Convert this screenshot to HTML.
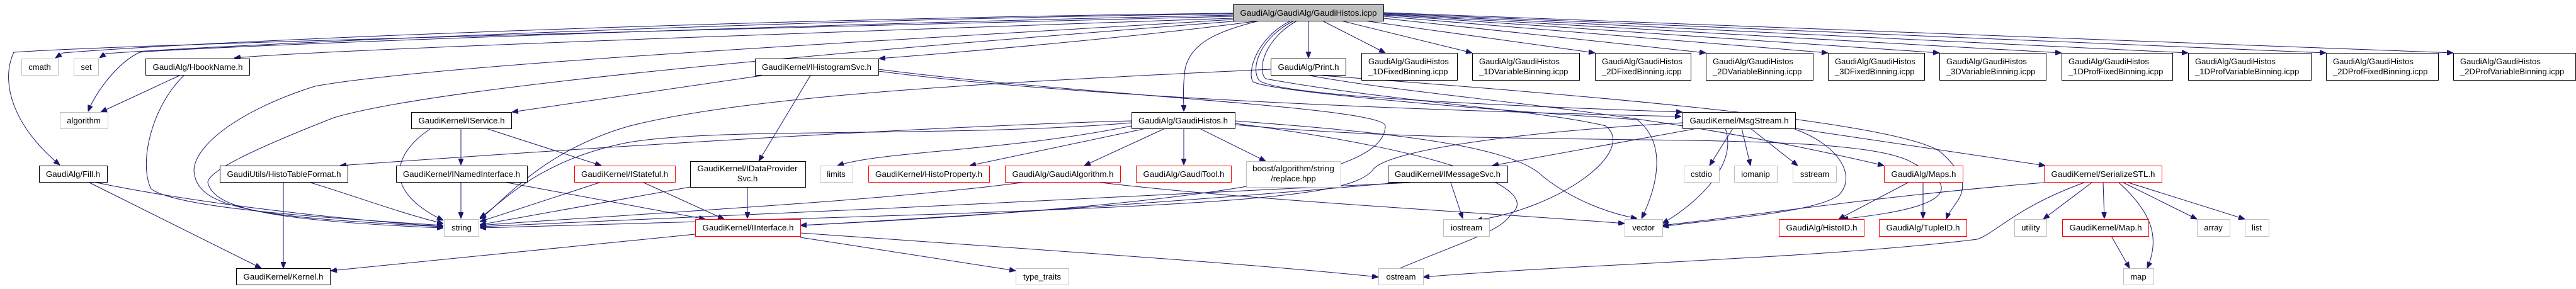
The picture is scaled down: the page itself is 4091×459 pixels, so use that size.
<!DOCTYPE html>
<html><head><meta charset="utf-8"><style>
html,body{margin:0;padding:0;background:#fff;width:4091px;height:459px;overflow:hidden}
svg{display:block}
text{font-family:"Liberation Sans",Arial,sans-serif;font-size:13px;fill:#000}
.e{fill:none;stroke:#191970;stroke-width:1}
.k{fill:#fff;stroke:#000}
.r{fill:#fff;stroke:#ff0000}
.g{fill:#fff;stroke:#bfbfbf}
</style></head><body>
<svg width="4091" height="459" viewBox="0 0 4091 459" xmlns="http://www.w3.org/2000/svg">
<defs><marker id="a" markerWidth="10" markerHeight="8" refX="10" refY="4" orient="auto" markerUnits="userSpaceOnUse"><path d="M0,0 L10,4 L0,8 z" fill="#191970" stroke="#191970"/></marker></defs>
<g class="e" marker-end="url(#a)">
<!-- root edges -->
<path d="M1958,21 C1300,28 400,60 100,84 L88,92"/>
<path d="M1958,22 C1300,30 450,66 168,85 L158,92"/>
<path d="M1958,24 C1200,40 300,75 222,83 C185,100 150,150 140,177"/>
<path d="M1958,26 C1200,45 200,70 22,83 C0,130 20,200 95,262"/>
<path d="M1958,29 C1200,55 500,80 372,92"/>
<path d="M2000,33 C1800,60 1500,85 1396,93"/>
<path d="M1958,31 C1500,60 700,100 500,137 C380,175 310,230 308,270 C310,330 400,345 704,360"/>
<path d="M1970,33 C1500,70 720,130 530,187 C420,230 330,270 330,290 C340,330 420,350 704,362"/>
<path d="M2000,33 C1930,50 1890,70 1882,110 C1878,140 1880,160 1880,177"/>
<path d="M2078,33 L2078,92"/>
<path d="M2100,33 L2200,84"/>
<path d="M2130,33 L2338,84"/>
<path d="M2160,32 L2533,84"/>
<path d="M2197,29 L2709,84"/>
<path d="M2197,26 L2903,84"/>
<path d="M2197,24 L3080,84"/>
<path d="M2197,23 L3274,84"/>
<path d="M2197,22 L3475,84"/>
<path d="M2197,21 L3694,84"/>
<path d="M2197,20 L3896,84"/>
<path d="M2055,33 C2000,60 1985,110 2000,128 C2030,150 2300,165 2672,178"/>
<path d="M2050,33 C1995,60 1980,115 1990,130 C2020,145 2300,170 2600,190 C2650,230 2630,300 2607,347"/>
<path d="M2060,33 C2010,60 1995,110 2010,125 C2200,160 2450,175 2550,200 C2600,240 2480,330 2344,350"/>
<!-- HbookName -->
<path d="M285,120 L160,178"/>
<path d="M292,120 C240,170 220,260 240,300 C280,330 500,345 704,358"/>
<!-- Fill -->
<path d="M142,290 L415,426"/>
<path d="M153,290 C300,320 500,345 704,360"/>
<!-- HistoTableFormat -->
<path d="M450,290 L450,426"/>
<path d="M493,290 C560,310 640,340 704,355"/>
<!-- IService -->
<path d="M732,204 L732,262"/>
<path d="M772,204 L955,263"/>
<path d="M683,205 C630,240 600,300 704,350"/>
<path d="M732,289 L732,347"/>
<path d="M800,289 L1120,348"/>
<path d="M955,289 L762,352"/>
<path d="M1020,289 L1150,348"/>
<path d="M1096,297 L762,357"/>
<path d="M1187,297 L1187,347"/>
<!-- IHistogramSvc -->
<path d="M1210,120 L813,178"/>
<path d="M1287,120 L1205,256"/>
<path d="M1395,113 C1600,140 2000,170 2670,185"/>
<path d="M1395,110 C1700,150 2200,170 2200,200 C2200,260 2050,320 1271,358"/>
<!-- Print.h -->
<path d="M2018,110 C1600,130 1200,150 1000,200 C860,240 800,320 762,348"/>
<path d="M2080,120 C2300,160 2600,170 2992,263"/>
<path d="M2100,120 C2500,150 3000,190 3080,240 C3150,300 3100,320 3091,348"/>
<!-- GaudiHistos.h -->
<path d="M1797,192 C1500,200 1000,230 540,263"/>
<path d="M1797,195 C1500,220 1100,200 980,230 C850,260 800,320 762,346"/>
<path d="M1820,204 L1540,263"/>
<path d="M1850,204 L1722,263"/>
<path d="M1880,204 L1880,262"/>
<path d="M1905,204 L2010,256"/>
<path d="M1961,192 C2200,210 2400,230 2450,280 C2500,320 2560,340 2600,347"/>
<path d="M1961,196 C2300,240 2450,300 2400,340 C2380,370 2330,380 2190,440"/>
<path d="M1961,198 C2400,240 2950,200 3040,260 C3160,320 3000,340 2925,348"/>
<path d="M1797,200 C1600,240 1400,240 1330,263"/>
<!-- GaudiAlgorithm -->
<path d="M1630,289 C1400,320 1000,340 762,358"/>
<path d="M1740,289 C2000,320 2400,340 2580,355"/>
<!-- IInterface -->
<path d="M1104,372 L525,430"/>
<path d="M1271,377 L1613,430"/>
<path d="M1271,370 C1700,400 2000,420 2189,440"/>
<!-- IMessageSvc -->
<path d="M2240,290 C1900,310 1200,340 762,360"/>
<path d="M2304,290 L2323,347"/>
<path d="M2220,290 C2000,310 1600,340 1271,358"/>
<!-- MsgStream -->
<path d="M2690,205 L2370,263"/>
<path d="M2752,204 L2715,263"/>
<path d="M2766,204 L2780,263"/>
<path d="M2780,204 L2855,263"/>
<path d="M2851,204 L3248,263"/>
<path d="M2672,195 C2400,210 2200,240 2180,270 C2140,320 1900,330 762,362"/>
<path d="M2850,205 C2920,230 2950,280 2920,310 C2880,340 2700,350 2640,360"/>
<path d="M2740,204 C2760,260 2700,320 2640,355"/>
<!-- Maps -->
<path d="M3030,290 L2920,348"/>
<path d="M3054,290 L3054,347"/>
<!-- SerializeSTL -->
<path d="M3246,290 C3000,310 2800,340 2640,358"/>
<path d="M3310,290 C3200,330 3170,370 3140,380 C2900,410 2500,420 2260,440"/>
<path d="M3322,290 L3245,348"/>
<path d="M3340,290 L3342,347"/>
<path d="M3365,290 C3420,340 3430,380 3410,426"/>
<path d="M3372,290 L3489,348"/>
<path d="M3380,290 L3565,348"/>
<path d="M3353,375 L3382,426"/>
</g>
<!-- nodes -->
<g>
<rect class="g" x="34.5" y="93.5" width="58" height="26"/><text x="63" y="111" text-anchor="middle">cmath</text>
<rect class="g" x="117.5" y="93.5" width="39" height="26"/><text x="137" y="111" text-anchor="middle">set</text>
<rect class="k" x="231.5" y="93.5" width="165" height="26"/><text x="314" y="111" text-anchor="middle" textLength="143" lengthAdjust="spacingAndGlyphs">GaudiAlg/HbookName.h</text>
<rect class="g" x="95.5" y="178.5" width="76" height="26"/><text x="133" y="196" text-anchor="middle">algorithm</text>
<rect class="k" x="62.5" y="263.5" width="108" height="26"/><text x="116" y="281" text-anchor="middle" textLength="86" lengthAdjust="spacingAndGlyphs">GaudiAlg/Fill.h</text>
<rect class="k" x="349.5" y="263.5" width="203" height="26"/><text x="451" y="281" text-anchor="middle" textLength="181" lengthAdjust="spacingAndGlyphs">GaudiUtils/HistoTableFormat.h</text>
<rect class="k" x="375.5" y="426.5" width="149" height="26"/><text x="450" y="444" text-anchor="middle" textLength="127" lengthAdjust="spacingAndGlyphs">GaudiKernel/Kernel.h</text>
<rect class="k" x="653.5" y="178.5" width="159" height="26"/><text x="733" y="196" text-anchor="middle" textLength="137" lengthAdjust="spacingAndGlyphs">GaudiKernel/IService.h</text>
<rect class="k" x="629.5" y="263.5" width="208" height="26"/><text x="733" y="281" text-anchor="middle" textLength="186" lengthAdjust="spacingAndGlyphs">GaudiKernel/INamedInterface.h</text>
<rect class="g" x="705.5" y="348.5" width="55" height="27"/><text x="733" y="366" text-anchor="middle">string</text>
<rect class="k" x="1199.5" y="93.5" width="196" height="26"/><text x="1297" y="111" text-anchor="middle" textLength="174" lengthAdjust="spacingAndGlyphs">GaudiKernel/IHistogramSvc.h</text>
<rect class="r" x="912.5" y="263.5" width="160" height="26"/><text x="992" y="281" text-anchor="middle" textLength="138" lengthAdjust="spacingAndGlyphs">GaudiKernel/IStateful.h</text>
<rect class="k" x="1096.5" y="256.5" width="183" height="41"/><text x="1187" y="272" text-anchor="middle" textLength="159" lengthAdjust="spacingAndGlyphs">GaudiKernel/IDataProvider</text><text x="1187" y="288" text-anchor="middle">Svc.h</text>
<rect class="g" x="1302.5" y="263.5" width="52" height="26"/><text x="1328" y="281" text-anchor="middle">limits</text>
<rect class="r" x="1104.5" y="348.5" width="167" height="27"/><text x="1188" y="366" text-anchor="middle" textLength="145" lengthAdjust="spacingAndGlyphs">GaudiKernel/IInterface.h</text>
<rect class="r" x="1379.5" y="263.5" width="192" height="26"/><text x="1475" y="281" text-anchor="middle" textLength="170" lengthAdjust="spacingAndGlyphs">GaudiKernel/HistoProperty.h</text>
<rect class="r" x="1596.5" y="263.5" width="183" height="26"/><text x="1688" y="281" text-anchor="middle" textLength="161" lengthAdjust="spacingAndGlyphs">GaudiAlg/GaudiAlgorithm.h</text>
<rect class="r" x="1804.5" y="263.5" width="151" height="26"/><text x="1880" y="281" text-anchor="middle" textLength="129" lengthAdjust="spacingAndGlyphs">GaudiAlg/GaudiTool.h</text>
<rect class="g" x="1979.5" y="256.5" width="150" height="41"/><text x="2054" y="272" text-anchor="middle" textLength="130" lengthAdjust="spacingAndGlyphs">boost/algorithm/string</text><text x="2054" y="288" text-anchor="middle">/replace.hpp</text>
<rect class="k" x="1797.5" y="178.5" width="164" height="26"/><text x="1879" y="196" text-anchor="middle" textLength="142" lengthAdjust="spacingAndGlyphs">GaudiAlg/GaudiHistos.h</text>
<rect class="g" x="1613.5" y="426.5" width="84" height="26"/><text x="1655" y="444" text-anchor="middle">type_traits</text>
<rect x="1958.5" y="7.5" width="239" height="26" fill="#bfbfbf" stroke="#000"/><text x="2078" y="25" text-anchor="middle" textLength="217" lengthAdjust="spacingAndGlyphs">GaudiAlg/GaudiAlg/GaudiHistos.icpp</text>
<rect class="k" x="2018.5" y="93.5" width="119" height="26"/><text x="2078" y="111" text-anchor="middle" textLength="97" lengthAdjust="spacingAndGlyphs">GaudiAlg/Print.h</text>
<rect class="k" x="2162.5" y="84.5" width="152" height="43"/><text x="2173" y="102">GaudiAlg/GaudiHistos</text><text x="2173" y="118">_1DFixedBinning.icpp</text>
<rect class="k" x="2338.5" y="84.5" width="170" height="43"/><text x="2349" y="102">GaudiAlg/GaudiHistos</text><text x="2349" y="118">_1DVariableBinning.icpp</text>
<rect class="k" x="2533.5" y="84.5" width="152" height="43"/><text x="2544" y="102">GaudiAlg/GaudiHistos</text><text x="2544" y="118">_2DFixedBinning.icpp</text>
<rect class="k" x="2709.5" y="84.5" width="170" height="43"/><text x="2720" y="102">GaudiAlg/GaudiHistos</text><text x="2720" y="118">_2DVariableBinning.icpp</text>
<rect class="k" x="2903.5" y="84.5" width="153" height="43"/><text x="2914" y="102">GaudiAlg/GaudiHistos</text><text x="2914" y="118">_3DFixedBinning.icpp</text>
<rect class="k" x="3080.5" y="84.5" width="169" height="43"/><text x="3091" y="102">GaudiAlg/GaudiHistos</text><text x="3091" y="118">_3DVariableBinning.icpp</text>
<rect class="k" x="3274.5" y="84.5" width="176" height="43"/><text x="3285" y="102">GaudiAlg/GaudiHistos</text><text x="3285" y="118">_1DProfFixedBinning.icpp</text>
<rect class="k" x="3475.5" y="84.5" width="195" height="43"/><text x="3486" y="102">GaudiAlg/GaudiHistos</text><text x="3486" y="118">_1DProfVariableBinning.icpp</text>
<rect class="k" x="3694.5" y="84.5" width="178" height="43"/><text x="3705" y="102">GaudiAlg/GaudiHistos</text><text x="3705" y="118">_2DProfFixedBinning.icpp</text>
<rect class="k" x="3896.5" y="84.5" width="194" height="43"/><text x="3907" y="102">GaudiAlg/GaudiHistos</text><text x="3907" y="118">_2DProfVariableBinning.icpp</text>
<rect class="k" x="2204.5" y="263.5" width="190" height="26"/><text x="2299" y="281" text-anchor="middle" textLength="168" lengthAdjust="spacingAndGlyphs">GaudiKernel/IMessageSvc.h</text>
<rect class="g" x="2292.5" y="348.5" width="73" height="27"/><text x="2329" y="366" text-anchor="middle">iostream</text>
<rect class="g" x="2580.5" y="348.5" width="60" height="27"/><text x="2610" y="366" text-anchor="middle">vector</text>
<rect class="g" x="2189.5" y="426.5" width="71" height="26"/><text x="2225" y="444" text-anchor="middle">ostream</text>
<rect class="k" x="2672.5" y="178.5" width="179" height="26"/><text x="2762" y="196" text-anchor="middle" textLength="157" lengthAdjust="spacingAndGlyphs">GaudiKernel/MsgStream.h</text>
<rect class="g" x="2674.5" y="263.5" width="56" height="26"/><text x="2702" y="281" text-anchor="middle">cstdio</text>
<rect class="g" x="2754.5" y="263.5" width="68" height="26"/><text x="2788" y="281" text-anchor="middle">iomanip</text>
<rect class="g" x="2847.5" y="263.5" width="69" height="26"/><text x="2882" y="281" text-anchor="middle">sstream</text>
<rect class="r" x="2992.5" y="263.5" width="125" height="26"/><text x="3055" y="281" text-anchor="middle" textLength="103" lengthAdjust="spacingAndGlyphs">GaudiAlg/Maps.h</text>
<rect class="r" x="3246.5" y="263.5" width="187" height="26"/><text x="3340" y="281" text-anchor="middle" textLength="165" lengthAdjust="spacingAndGlyphs">GaudiKernel/SerializeSTL.h</text>
<rect class="r" x="2825.5" y="348.5" width="135" height="27"/><text x="2893" y="366" text-anchor="middle" textLength="113" lengthAdjust="spacingAndGlyphs">GaudiAlg/HistoID.h</text>
<rect class="r" x="2984.5" y="348.5" width="139" height="27"/><text x="3054" y="366" text-anchor="middle" textLength="117" lengthAdjust="spacingAndGlyphs">GaudiAlg/TupleID.h</text>
<rect class="g" x="3199.5" y="348.5" width="51" height="27"/><text x="3225" y="366" text-anchor="middle">utility</text>
<rect class="r" x="3275.5" y="348.5" width="137" height="27"/><text x="3344" y="366" text-anchor="middle" textLength="115" lengthAdjust="spacingAndGlyphs">GaudiKernel/Map.h</text>
<rect class="g" x="3372.5" y="426.5" width="48" height="26"/><text x="3396" y="444" text-anchor="middle">map</text>
<rect class="g" x="3489.5" y="348.5" width="52" height="27"/><text x="3515" y="366" text-anchor="middle">array</text>
<rect class="g" x="3565.5" y="348.5" width="38" height="27"/><text x="3584" y="366" text-anchor="middle">list</text>
</g>
</svg>
</body></html>
